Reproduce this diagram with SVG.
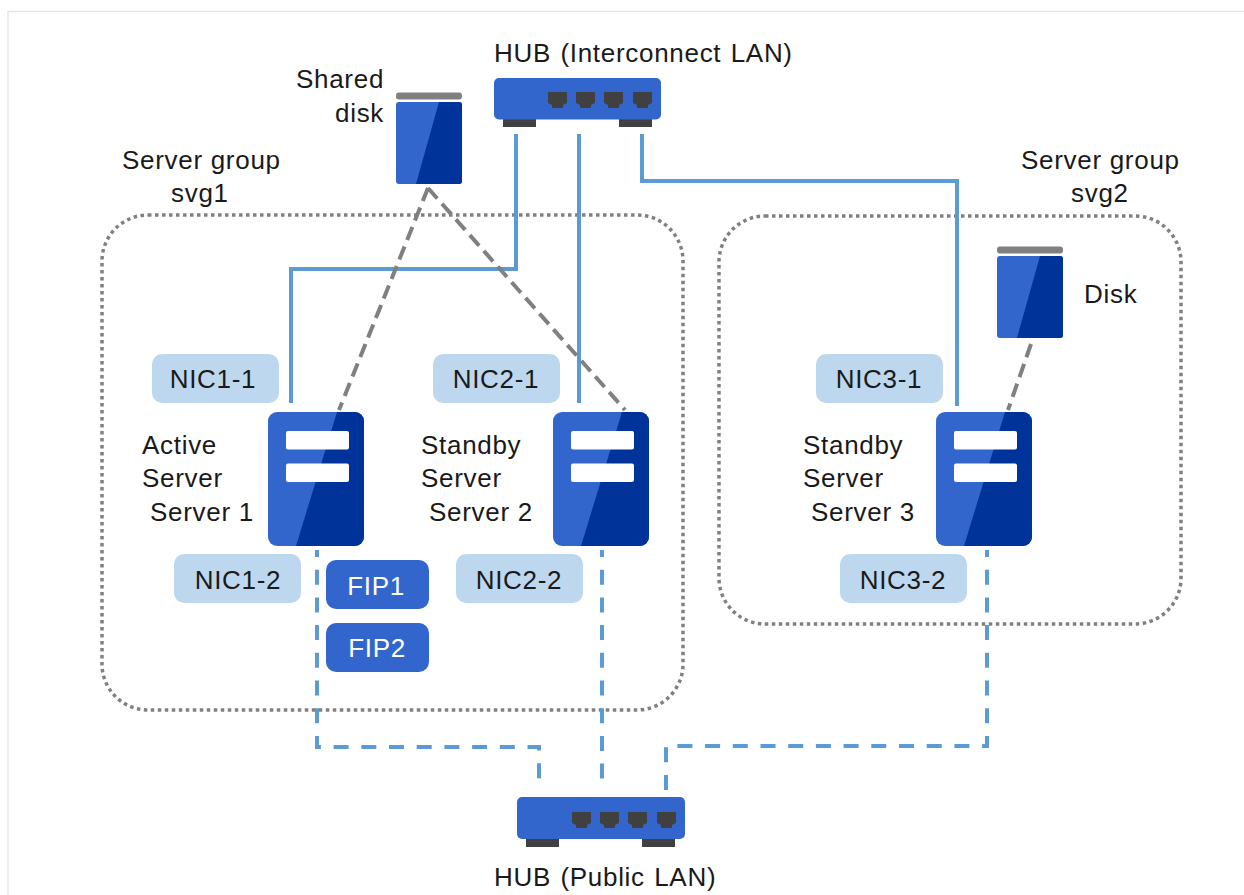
<svg xmlns="http://www.w3.org/2000/svg" width="1244" height="895" viewBox="0 0 1244 895">
<style>
text{font-family:"Liberation Sans",Arial,sans-serif;font-size:26px;letter-spacing:.7px;fill:#1a1a1a}
.w{fill:#fff}
.m{text-anchor:middle}
.frame{fill:none;stroke:#e6e6e6;stroke-width:1.5}
.grp{fill:none;stroke:#808080;stroke-width:3.5;stroke-dasharray:3.5 3.5}
.nic{fill:#bdd7ee}
.fip{fill:#3366cc}
.lt{fill:#3366cc}
.dk{fill:#003399}
.bar{fill:#fff}
.cap{fill:#808080}
.port,.foot{fill:#404040}
.solid{fill:none;stroke:#5b9bd5;stroke-width:4}
.dash{fill:none;stroke:#5b9bd5;stroke-width:4;stroke-dasharray:15 12.7;stroke-dashoffset:8}
.gd{fill:none;stroke:#808080;stroke-width:4;stroke-dasharray:14 7}
</style>
<defs>
<g id="srv">
<rect class="lt" width="96" height="134" rx="9"/>
<path class="dk" d="M69 0H87a9 9 0 0 1 9 9V125a9 9 0 0 1-9 9H28Z"/>
<rect class="bar" x="18" y="19" width="63" height="18.500" rx="2"/>
<rect class="bar" x="18" y="51.500" width="63" height="18.500" rx="2"/>
</g>
<g id="dsk">
<rect class="cap" x="0" y="-9.500" width="66" height="7" rx="3"/>
<rect class="lt" width="66" height="82" rx="3"/>
<path class="dk" d="M43 0H63a3 3 0 0 1 3 3V79a3 3 0 0 1-3 3H20Z"/>
</g>
<path id="prt" class="port" d="M0 0H19V11L15 13V16H4V13L0 11Z"/>
</defs>
<path class="frame" d="M8 895V11.500H1244"/>
<g id="groups">
<rect id="svg1" class="grp" x="102" y="215" width="581" height="495" rx="46"/>
<rect id="svg2" class="grp" x="719" y="216" width="462" height="408" rx="46"/>
</g>
<g id="connectors">
<path class="solid" d="M516 134V269H291V403"/>
<path class="solid" d="M579 134V403"/>
<path class="solid" d="M642 134V181H957V406"/>
<path class="gd" d="M428 188L339 410"/>
<path class="gd" d="M428 188L625 410"/>
<path class="gd" d="M1031 344L1008 410"/>
<path class="dash" d="M317 550V747H539V790"/>
<path class="dash" d="M602 550V790"/>
<path class="dash" d="M987 550V746H666V792"/>
</g>
<g id="hub-interconnect">
<rect class="foot" x="503" y="119" width="33" height="8"/>
<rect class="foot" x="619" y="119" width="33" height="8"/>
<rect class="lt" x="494" y="78" width="167" height="41.500" rx="5"/>
<use href="#prt" x="548" y="92"/><use href="#prt" x="576" y="92"/><use href="#prt" x="604" y="92"/><use href="#prt" x="633" y="92"/>
<text x="494" y="62" word-spacing="1.500">HUB (Interconnect LAN)</text>
</g>
<g id="hub-public">
<rect class="foot" x="526" y="839" width="33" height="8"/>
<rect class="foot" x="642" y="839" width="33" height="8"/>
<rect class="lt" x="517" y="797" width="168" height="42" rx="5"/>
<use href="#prt" x="572" y="812"/><use href="#prt" x="600" y="812"/><use href="#prt" x="628" y="812"/><use href="#prt" x="657" y="812"/>
<text x="494" y="886" word-spacing="1.500">HUB (Public LAN)</text>
</g>
<g id="shared-disk">
<use href="#dsk" x="396" y="102"/>
<text x="296" y="88">Shared</text><text x="335" y="122">disk</text>
</g>
<g id="disk">
<use href="#dsk" x="997" y="256"/>
<text x="1084" y="303">Disk</text>
</g>
<g id="label-svg1"><text x="122" y="169">Server group</text><text x="171" y="202">svg1</text></g>
<g id="label-svg2"><text x="1021" y="169">Server group</text><text x="1071" y="202">svg2</text></g>
<g id="server1">
<use href="#srv" x="268" y="412"/>
<text x="142" y="454">Active</text><text x="142" y="487">Server</text><text x="150" y="521">Server 1</text>
</g>
<g id="server2">
<use href="#srv" x="553" y="412"/>
<text x="421" y="454">Standby</text><text x="421" y="487">Server</text><text x="429" y="521">Server 2</text>
</g>
<g id="server3">
<use href="#srv" x="936" y="412"/>
<text x="803" y="454">Standby</text><text x="803" y="487">Server</text><text x="811" y="521">Server 3</text>
</g>
<g id="nic1-1"><rect class="nic" x="152" y="354" width="127" height="49" rx="10"/><text class="m" x="213" y="388">NIC1-1</text></g>
<g id="nic1-2"><rect class="nic" x="174" y="554" width="127" height="49" rx="10"/><text class="m" x="238" y="589">NIC1-2</text></g>
<g id="nic2-1"><rect class="nic" x="433" y="354" width="127" height="49" rx="10"/><text class="m" x="496" y="388">NIC2-1</text></g>
<g id="nic2-2"><rect class="nic" x="456" y="554" width="127" height="49" rx="10"/><text class="m" x="519" y="589">NIC2-2</text></g>
<g id="nic3-1"><rect class="nic" x="816" y="354" width="127" height="49" rx="10"/><text class="m" x="879" y="388">NIC3-1</text></g>
<g id="nic3-2"><rect class="nic" x="840" y="554" width="127" height="49" rx="10"/><text class="m" x="903" y="589">NIC3-2</text></g>
<g id="fip1"><rect class="fip" x="326" y="560" width="103" height="49" rx="10"/><text class="m w" x="376" y="595">FIP1</text></g>
<g id="fip2"><rect class="fip" x="326" y="623" width="103" height="49" rx="10"/><text class="m w" x="377" y="657">FIP2</text></g>
</svg>
